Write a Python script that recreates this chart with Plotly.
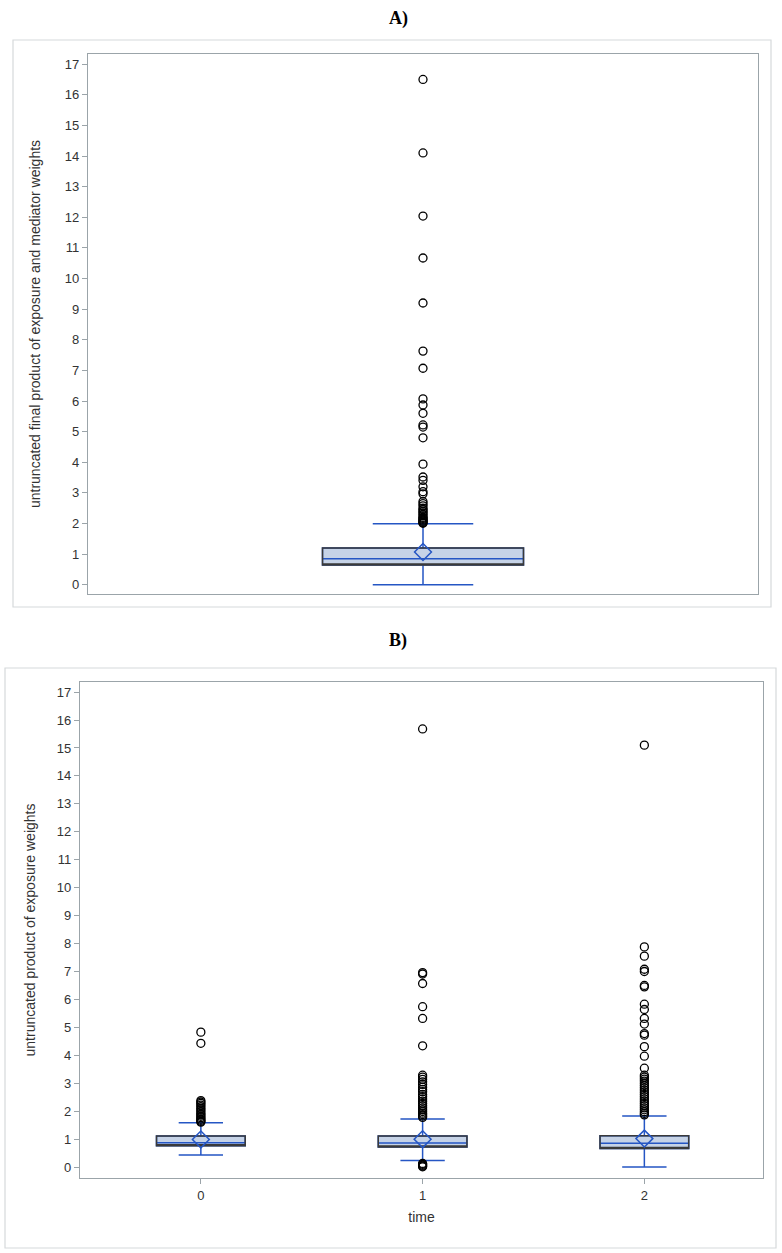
import plotly.graph_objects as go

# ---- data ----
# Panel A: untruncated final product of exposure and mediator weights
a_q1, a_med, a_q3 = 0.65, 0.85, 1.20
a_low, a_high = 0.0, 1.99
a_mean = 1.07
a_outliers = [16.5, 14.1, 12.04, 10.67, 9.2, 7.63, 7.07, 6.07, 5.87, 5.6, 5.22,
              5.15, 4.8, 3.94, 3.52, 3.41, 3.2, 3.04, 2.97, 2.72, 2.65, 2.58, 2.5,
              2.45, 2.4, 2.35, 2.3, 2.25, 2.2, 2.17, 2.14, 2.11, 2.08, 2.05, 2.03, 2.01]

# Panel B: untruncated product of exposure weights, by time
times = [0, 1, 2]
b_q1 = [0.76, 0.72, 0.67]
b_med = [0.87, 0.86, 0.85]
b_q3 = [1.11, 1.11, 1.12]
b_low = [0.43, 0.24, 0.0]
b_high = [1.59, 1.72, 1.83]
b_mean = [0.99, 1.0, 1.02]
b_outliers = [
    [4.83, 4.43, 2.38, 2.33, 2.28, 2.22, 2.16, 2.1, 2.04, 1.98, 1.92, 1.87,
     1.82, 1.77, 1.72, 1.68, 1.64, 1.61],
    [15.68, 6.96, 6.91, 6.57, 5.74, 5.32, 4.34, 3.29, 3.22, 3.14, 3.05, 2.96,
     2.86, 2.78, 2.7, 2.6, 2.52, 2.44, 2.36, 2.28, 2.2, 2.12, 2.05, 1.99, 1.93,
     1.88, 1.83, 1.78, 0.13, 0.1, 0.07, 0.04, 0.01],
    [15.1, 7.88, 7.55, 7.08, 7.0, 6.5, 6.45, 5.83, 5.64, 5.32, 5.12, 4.78, 4.72,
     4.31, 3.97, 3.54, 3.29, 3.22, 3.15, 3.08, 3.0, 2.92, 2.84, 2.76, 2.68, 2.6,
     2.52, 2.44, 2.36, 2.28, 2.2, 2.12, 2.05, 1.98, 1.92, 1.87],
]

y_title_a = "untruncated final product of exposure and mediator weights"
y_title_b = "untruncated product of exposure weights"
x_title_b = "time"

# ---- styling ----
W, H = 782, 1253
FILL = "#c6d3e7"
BLUE = "#2556c4"
DARK = "#3a3a3a"
FRAME = "#9ba4a9"
FONT = "Arial, Liberation Sans, sans-serif"


def px_x(p):
    return p / W


def px_y(p):
    return 1 - p / H


fig = go.Figure()


def add_box(xa, ya, x, q1, med, q3, lo, hi, mean, outs, width):
    # blue box: whiskers + median
    fig.add_trace(go.Box(
        x=[x], q1=[q1], median=[med], q3=[q3], lowerfence=[lo], upperfence=[hi],
        width=width, whiskerwidth=0.5, fillcolor=FILL,
        line=dict(color=BLUE, width=1.5), boxpoints=False,
        xaxis=xa, yaxis=ya, showlegend=False,
    ))
    # dark outline of the box
    fig.add_trace(go.Box(
        x=[x], q1=[q1], median=[q1], q3=[q3], lowerfence=[q1], upperfence=[q3],
        width=width, whiskerwidth=0, fillcolor="rgba(0,0,0,0)",
        line=dict(color=DARK, width=1.5), boxpoints=False,
        xaxis=xa, yaxis=ya, showlegend=False,
    ))
    fig.add_trace(go.Scatter(
        x=[x] * len(outs), y=outs, mode="markers",
        marker=dict(symbol="circle-open", size=8, color="black", line=dict(width=1.3)),
        xaxis=xa, yaxis=ya, showlegend=False,
    ))
    fig.add_trace(go.Scatter(
        x=[x], y=[mean], mode="markers",
        marker=dict(symbol="diamond-open", size=13, color=BLUE, line=dict(width=1.5)),
        xaxis=xa, yaxis=ya, showlegend=False,
    ))


add_box("x", "y", 0, a_q1, a_med, a_q3, a_low, a_high, a_mean, a_outliers, 0.6)
for i, t in enumerate(times):
    add_box("x2", "y2", t, b_q1[i], b_med[i], b_q3[i], b_low[i], b_high[i],
            b_mean[i], b_outliers[i], 0.4)

axis_common = dict(showline=True, mirror=True, linecolor=FRAME, linewidth=1.2,
                   showgrid=False, zeroline=False,
                   tickfont=dict(family=FONT, size=13, color="#333333"))

fig.update_layout(
    width=W, height=H,
    margin=dict(l=0, r=0, t=0, b=0),
    paper_bgcolor="white", plot_bgcolor="white",
    boxmode="overlay",
    xaxis=dict(domain=[px_x(88), px_x(758)], range=[-1, 1], showticklabels=False,
               ticks="", anchor="y", **axis_common),
    yaxis=dict(domain=[px_y(594), px_y(54)], range=[-0.3, 17.33], dtick=1,
               ticks="outside", ticklen=5, tickcolor=FRAME, anchor="x",
               title=dict(text=y_title_a, font=dict(family=FONT, size=14, color="#333333"),
                          standoff=20),
               **axis_common),
    xaxis2=dict(domain=[px_x(80), px_x(763)], range=[-0.545, 2.535], tickvals=times,
                ticks="outside", ticklen=5, tickcolor=FRAME, anchor="y2",
                title=dict(text=x_title_b, font=dict(family=FONT, size=14, color="#333333"),
                           standoff=10),
                **axis_common),
    yaxis2=dict(domain=[px_y(1178), px_y(682)], range=[-0.39, 17.36], dtick=1,
                ticks="outside", ticklen=5, tickcolor=FRAME, anchor="x2",
                title=dict(text=y_title_b, font=dict(family=FONT, size=14, color="#333333"),
                           standoff=17),
                **axis_common),
)

# outer panel borders
fig.add_shape(type="rect", xref="paper", yref="paper",
              x0=px_x(13), x1=px_x(771), y0=px_y(607), y1=px_y(40),
              line=dict(color="#d6d9db", width=1.2))
fig.add_shape(type="rect", xref="paper", yref="paper",
              x0=px_x(5), x1=px_x(776), y0=px_y(1248), y1=px_y(668),
              line=dict(color="#d6d9db", width=1.2))

# panel titles
for txt, yp in [("A)", 18), ("B)", 640)]:
    fig.add_annotation(text="<b>" + txt + "</b>", xref="paper", yref="paper",
                       x=px_x(398), y=px_y(yp), yanchor="middle", showarrow=False,
                       font=dict(family="Liberation Serif, Times New Roman, serif",
                                 size=18, color="black"))

fig.write_html("out.html", config={"displayModeBar": False},
               post_script="document.body.style.margin='0';")
